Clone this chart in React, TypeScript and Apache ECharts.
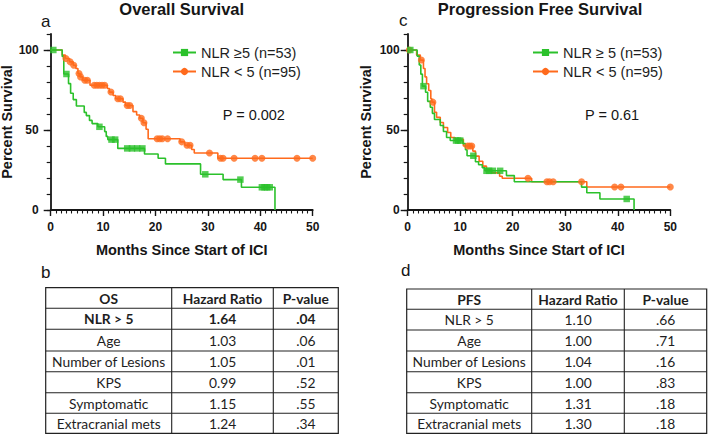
import React, { useEffect, useRef } from 'react';
import * as echarts from 'echarts';

const GREEN = '#2BC12B';
const ORANGE = '#FF6A1C';
const INK = '#161616';
const SANS = '"Liberation Sans", Arial, sans-serif';
const TABLE_FONT = 'Lato, "Noto Sans", sans-serif';

// Tick labels
const MONTH_LABELS = [0, 10, 20, 30, 40, 50];
const PCT_LABELS = [0, 50, 100];

// Legend names
const HIGH_OS = 'NLR \u22655 (n=53)';
const LOW_NAME = 'NLR < 5 (n=95)';
const HIGH_PFS = 'NLR \u2265 5 (n=53)';

// Overall survival, NLR >= 5
const osHighTimes = [2.2, 2.5, 3.4, 3.8, 4.3, 4.9, 6.4, 6.8, 7.4, 7.9, 9.0, 10.3, 10.6, 10.9, 12.8, 17.9, 20.5, 21.9, 28.6, 32.9, 36.4, 42.8];
const osHighSurv = [96, 85, 79, 73, 69, 65, 61, 59, 56, 54, 52, 49, 46, 44, 38.5, 35, 32.3, 28.8, 22.3, 19, 14.2, 0];
const osHighCensor = [0.5, 3.0, 9.3, 11.6, 12.3, 14.6, 15.5, 16.5, 17.5, 29.5, 36.2, 40.3, 40.8, 41.3, 41.8];

// Overall survival, NLR < 5
const osLowTimes = [2.2, 2.8, 3.6, 4.3, 4.8, 5.2, 5.6, 6.1, 7.5, 10.8, 11.2, 11.9, 12.4, 13.8, 14.3, 15.7, 16.4, 17.0, 17.6, 18.2, 18.6, 24.7, 25.6, 26.9, 27.4, 31.9];
const osLowSurv = [96.8, 94.7, 92.6, 90.5, 88.4, 85.3, 83.2, 81.1, 78.0, 75.9, 73.7, 71.6, 69.5, 67.4, 65.3, 61.5, 59.4, 57.3, 54.5, 50.5, 44.5, 42.6, 40.5, 37.8, 35.6, 32.3];
const osLowCensor = [2.9, 3.7, 4.4, 5.4, 5.7, 6.5, 7.0, 8.3, 8.8, 9.3, 9.8, 10.3, 11.5, 12.8, 13.3, 14.6, 15.1, 17.3, 17.8, 20.3, 20.8, 21.3, 22.3, 25.0, 26.0, 26.6, 30.3, 32.4, 32.9, 35.0, 39.0, 40.3, 47.0, 50.0];

// Progression free survival, NLR >= 5
const pfsHighTimes = [1.8, 2.2, 2.5, 2.8, 3.4, 3.8, 4.3, 4.7, 5.1, 6.2, 6.8, 7.4, 8.1, 10.5, 11.0, 11.3, 12.9, 13.5, 14.2, 14.7, 18.8, 20.3, 33.1, 34.1, 36.6, 43.1];
const pfsHighSurv = [96.2, 90.6, 84.9, 77.4, 73.6, 67.9, 64.2, 60.4, 56.6, 52.8, 49.1, 45.3, 43.4, 41.5, 37.7, 33.9, 30.2, 28.3, 26.4, 24.5, 21.5, 17.7, 14.3, 10.8, 6.9, 0];
const pfsHighCensor = [0.5, 3.0, 9.2, 9.6, 10.0, 12.5, 15.0, 15.5, 16.2, 17.6, 41.7];

// Progression free survival, NLR < 5
const pfsLowTimes = [1.7, 2.4, 3.0, 3.3, 3.6, 4.0, 4.4, 4.6, 5.1, 5.5, 6.2, 6.8, 7.6, 8.2, 9.0, 10.6, 12.4, 12.9, 13.6, 14.3, 15.0, 16.0, 17.5, 18.0, 23.6, 34.1];
const pfsLowSurv = [96.8, 93.7, 88.4, 83.2, 78.9, 74.7, 69.5, 67.4, 61.1, 57.9, 54.7, 51.6, 48.4, 45.3, 44.2, 40.0, 36.8, 33.7, 30.5, 27.4, 25.3, 23.2, 21.1, 19.8, 17.7, 14.4];
const pfsLowCensor = [0.3, 2.6, 4.8, 11.4, 11.8, 12.2, 22.9, 26.5, 27.0, 27.7, 33.1, 39.4, 40.6, 50.0];

// Tables
const tableHeaderOS = ['OS', 'Hazard Ratio', 'P-value'];
const tableHeaderPFS = ['PFS', 'Hazard Ratio', 'P-value'];
const covariates = ['NLR > 5', 'Age', 'Number of Lesions', 'KPS', 'Symptomatic', 'Extracranial mets'];
const osHazard = ['1.64', '1.03', '1.05', '0.99', '1.15', '1.24'];
const osPValue = ['.04', '.06', '.01', '.52', '.55', '.34'];
const pfsHazard = ['1.10', '1.00', '1.04', '1.00', '1.31', '1.30'];
const pfsPValue = ['.66', '.71', '.16', '.83', '.18', '.18'];

function survivalAt(times: number[], surv: number[], t: number) {
  let v = 100;
  for (let i = 0; i < times.length; i++) {
    if (times[i] <= t) v = surv[i];
  }
  return v;
}

function curve(times: number[], surv: number[], endAt?: number) {
  const pts: number[][] = [[0, 100]];
  times.forEach((t, i) => pts.push([t, surv[i]]));
  if (endAt !== undefined) pts.push([endAt, surv[surv.length - 1]]);
  return pts;
}

function censorPts(times: number[], surv: number[], cens: number[]) {
  return cens.map((t) => [t, survivalAt(times, surv, t)]);
}

function txt(x: number, y: number, text: string, font: string, align = 'center', fill = INK) {
  return {
    type: 'text',
    x,
    y,
    silent: true,
    style: {
      text,
      font,
      fill,
      align,
      textAlign: align,
      verticalAlign: 'middle',
      textVerticalAlign: 'middle',
    },
  };
}

function buildTable(cols: number[], rows: number[], header: string[], c1: string[], c2: string[], c3: string[], boldFirstData: boolean) {
  const els: any[] = [];
  const stroke = '#222';
  els.push({
    type: 'rect',
    shape: { x: cols[0], y: rows[0], width: cols[3] - cols[0], height: rows[rows.length - 1] - rows[0] },
    style: { fill: 'rgba(0,0,0,0)', stroke, lineWidth: 1.2 },
    silent: true,
  });
  for (let i = 1; i < rows.length - 1; i++) {
    els.push({ type: 'line', shape: { x1: cols[0], y1: rows[i], x2: cols[3], y2: rows[i] }, style: { stroke, lineWidth: 1.1 }, silent: true });
  }
  for (let j = 1; j < 3; j++) {
    els.push({ type: 'line', shape: { x1: cols[j], y1: rows[0], x2: cols[j], y2: rows[rows.length - 1] }, style: { stroke, lineWidth: 1.1 }, silent: true });
  }
  const all = [header, ...c1.map((c, i) => [c, c2[i], c3[i]])];
  all.forEach((row, r) => {
    const bold = r === 0 || (boldFirstData && r === 1);
    const font = `${bold ? 'bold ' : ''}13.8px ${TABLE_FONT}`;
    row.forEach((cell, c) => {
      const cx = (cols[c] + cols[c + 1]) / 2;
      const cy = (rows[r] + rows[r + 1]) / 2;
      els.push(txt(cx, cy, cell, font, 'center', '#1e1e1e'));
    });
  });
  return els;
}

function axesFor(g: number, yNameGap: number, yLabelMargin: number) {
  const axisLine = { show: true, lineStyle: { color: INK, width: 1.8 } };
  const xAxes = [
    {
      gridIndex: g,
      type: 'value',
      position: 'bottom',
      min: 0,
      max: 50,
      interval: 10,
      axisLine,
      axisTick: { show: true, length: 6, lineStyle: { color: INK, width: 1.4 } },
      minorTick: { show: true, splitNumber: 10, length: 3.5, lineStyle: { color: INK, width: 1.1 } },
      splitLine: { show: false },
      minorSplitLine: { show: false },
      axisLabel: {
        color: INK,
        fontFamily: SANS,
        fontWeight: 'bold',
        fontSize: 12,
        margin: 11,
        formatter: (v: number) => (MONTH_LABELS.includes(v) ? String(v) : ''),
      },
      name: 'Months Since Start of ICI',
      nameLocation: 'middle',
      nameGap: 32,
      nameTextStyle: { color: INK, fontFamily: SANS, fontWeight: 'bold', fontSize: 14.5 },
    },
  ];
  const yAxes = [
    {
      gridIndex: g,
      type: 'value',
      position: 'left',
      min: 0,
      max: 110,
      interval: 10,
      axisLine,
      axisTick: { show: true, length: 4, lineStyle: { color: INK, width: 1.2 } },
      splitLine: { show: false },
      axisLabel: {
        color: INK,
        fontFamily: SANS,
        fontWeight: 'bold',
        fontSize: 12,
        margin: yLabelMargin,
        formatter: (v: number) => (PCT_LABELS.includes(v) ? String(v) : ''),
      },
      name: 'Percent Survival',
      nameLocation: 'middle',
      nameGap: yNameGap,
      nameRotate: 90,
      nameTextStyle: { color: INK, fontFamily: SANS, fontWeight: 'bold', fontSize: 14.5 },
    },
    {
      gridIndex: g,
      type: 'value',
      position: 'left',
      min: 0,
      max: 110,
      interval: 50,
      axisLine: { show: false },
      axisTick: { show: true, length: 7, customValues: PCT_LABELS, lineStyle: { color: INK, width: 1.4 } },
      axisLabel: { show: false },
      splitLine: { show: false },
    },
  ];
  return { xAxes, yAxes };
}

function seriesFor(
  g: number,
  highName: string,
  hT: number[], hS: number[], hC: number[],
  lT: number[], lS: number[], lC: number[],
) {
  return [
    {
      name: highName,
      type: 'line',
      xAxisIndex: g,
      yAxisIndex: g * 2,
      step: 'end',
      symbol: 'rect',
      showSymbol: false,
      color: GREEN,
      lineStyle: { color: GREEN, width: 1.6 },
      data: curve(hT, hS),
      z: 3,
    },
    {
      name: LOW_NAME,
      type: 'line',
      xAxisIndex: g,
      yAxisIndex: g * 2,
      step: 'end',
      symbol: 'circle',
      showSymbol: false,
      color: ORANGE,
      lineStyle: { color: ORANGE, width: 1.6 },
      data: curve(lT, lS, 50),
      z: 2,
    },
    {
      name: highName + ' censored',
      type: 'scatter',
      xAxisIndex: g,
      yAxisIndex: g * 2,
      symbol: 'rect',
      symbolSize: 6.5,
      itemStyle: { color: GREEN },
      data: censorPts(hT, hS, hC),
      z: 4,
    },
    {
      name: LOW_NAME + ' censored',
      type: 'scatter',
      xAxisIndex: g,
      yAxisIndex: g * 2,
      symbol: 'circle',
      symbolSize: 7,
      itemStyle: { color: ORANGE },
      data: censorPts(lT, lS, lC),
      z: 3,
    },
  ];
}

function buildOption() {
  const left = axesFor(0, 31, 12);
  const right = axesFor(1, 34, 8);
  const legendText = { color: '#1e1e1e', fontFamily: SANS, fontSize: 14.5 };
  return {
    animation: false,
    backgroundColor: '#ffffff',
    grid: [
      { left: 50.7, top: 34, width: 262, height: 176, outerBoundsMode: 'none', containLabel: false },
      { left: 407.7, top: 34, width: 262.6, height: 176, outerBoundsMode: 'none', containLabel: false },
    ],
    xAxis: [...left.xAxes, ...right.xAxes],
    yAxis: [...left.yAxes, ...right.yAxes],
    legend: [
      {
        orient: 'vertical',
        left: 167,
        top: 40,
        itemWidth: 23,
        itemHeight: 9,
        itemGap: 4,
        data: [HIGH_OS, LOW_NAME],
        textStyle: legendText,
        selectedMode: false,
      },
      {
        orient: 'vertical',
        left: 527,
        top: 40,
        itemWidth: 25,
        itemHeight: 9,
        itemGap: 4,
        data: [HIGH_PFS, LOW_NAME],
        textStyle: legendText,
        selectedMode: false,
      },
    ],
    series: [
      ...seriesFor(0, HIGH_OS, osHighTimes, osHighSurv, osHighCensor, osLowTimes, osLowSurv, osLowCensor),
      ...seriesFor(1, HIGH_PFS, pfsHighTimes, pfsHighSurv, pfsHighCensor, pfsLowTimes, pfsLowSurv, pfsLowCensor),
    ],
    graphic: [
      txt(181.7, 9, 'Overall Survival', `bold 16.5px ${SANS}`),
      txt(540, 9, 'Progression Free Survival', `bold 16.5px ${SANS}`),
      txt(41, 21, 'a', `17px ${SANS}`, 'left'),
      txt(399, 20, 'c', `17px ${SANS}`, 'left'),
      txt(41, 272, 'b', `17px ${SANS}`, 'left'),
      txt(401, 270, 'd', `17px ${SANS}`, 'left'),
      txt(222.7, 115, 'P = 0.002', `14.5px ${SANS}`, 'left'),
      txt(585, 115, 'P = 0.61', `14.5px ${SANS}`, 'left'),
      ...buildTable([45.7, 171.7, 273.3, 338.3], [287.7, 308.3, 329.3, 351, 371.7, 392.7, 413.3, 433.3], tableHeaderOS, covariates, osHazard, osPValue, true),
      ...buildTable([406.7, 531.7, 624.3, 706.7], [289, 309.3, 330, 351, 371.7, 392.7, 413.3, 433.3], tableHeaderPFS, covariates, pfsHazard, pfsPValue, false),
    ],
  };
}

export default function App() {
  const ref = useRef<HTMLDivElement>(null);
  useEffect(() => {
    if (!ref.current) return;
    const chart = echarts.init(ref.current, null, { renderer: 'svg' });
    chart.setOption(buildOption() as any);
    return () => chart.dispose();
  }, []);
  return (
    <div
      ref={ref}
      style={{ position: 'absolute', left: 0, top: 0, width: 708, height: 436, background: '#fff' }}
    />
  );
}
